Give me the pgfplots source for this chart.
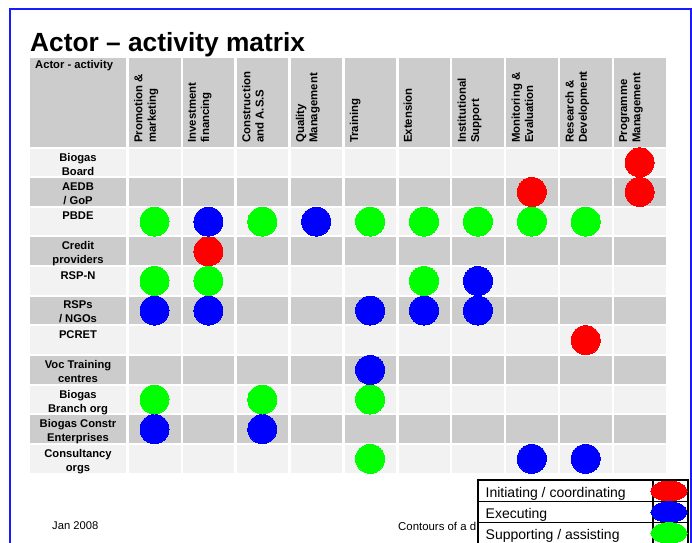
\documentclass[border=0pt]{standalone}
\usepackage{pgfplots}
\pgfplotsset{compat=1.18}
\usepackage{fontspec}
\setmainfont{Liberation Sans}
\definecolor{lightc}{HTML}{F2F2F2}
\definecolor{grayc}{HTML}{CCCCCC}
\definecolor{cred}{HTML}{FF0000}
\definecolor{cblue}{HTML}{0000FF}
\definecolor{cgreen}{HTML}{00FF00}
\definecolor{framec}{HTML}{1A1AFF}
\begin{document}
\begin{tikzpicture}
\useasboundingbox (0,0) rectangle (692pt,542pt);
\fill[white] (0,0) rectangle (692pt,542pt);
\begin{scope}[x=1pt,y=-1pt,shift={(0pt,542pt)}]
  % header row
  \fill[grayc] (30,58) rectangle (126,147);
  \foreach \k in {1,...,10} {
    \pgfmathsetmacro\L{129+53.9*(\k-1)}
    \pgfmathsetmacro\R{\L+51.5}
    \fill[grayc] (\L,58) rectangle (\R,147);
  }
  % body rows
  \foreach \r in {1,...,11} {
    \pgfmathsetmacro\T{148.5+29.65*(\r-1)}
    \pgfmathsetmacro\B{\T+27.6}
    \ifodd\r \def\cellc{lightc}\else\def\cellc{grayc}\fi
    \fill[\cellc] (30,\T) rectangle (126,\B);
    \foreach \k in {1,...,10} {
      \pgfmathsetmacro\L{129+53.9*(\k-1)}
      \pgfmathsetmacro\R{\L+51.5}
      \fill[\cellc] (\L,\T) rectangle (\R,\B);
    }
  }
  % title
  \node[anchor=base west, inner sep=0, font=\fontsize{26.3}{30}\selectfont\bfseries] at (30,52) {Actor – activity matrix};
  \node[anchor=base west, inner sep=0, font=\fontsize{11.2}{13.5}\selectfont\bfseries] at (35,69) {Actor - activity};
  % column headers
  \foreach \k/\txt in {1/{Promotion \&\\marketing},2/{Investment\\financing},3/{Construction\\and A.S.S},4/{Quality\\Management},5/{Training},6/{Extension},7/{Institutional\\Support},8/{Monitoring \&\\Evaluation},9/{Research \&\\Development},10/{Programme\\Management}} {
    \pgfmathsetmacro\L{129+53.9*(\k-1)+5}
    \node[rotate=90, anchor=north west, inner sep=0, align=left, font=\fontsize{11.4}{13.3}\selectfont\bfseries] at (\L,143) {\txt};
  }
  % row labels
  \foreach \r/\txt in {1/{Biogas\\Board},2/{AEDB\\/ GoP},3/{PBDE},4/{Credit\\providers},5/{RSP-N},6/{RSPs\\/ NGOs},7/{PCRET},8/{Voc Training\\centres},9/{Biogas\\Branch org},10/{Biogas Constr\\Enterprises},11/{Consultancy\\orgs}} {
    \pgfmathsetmacro\T{148.5+29.65*(\r-1)+4.2}
    \node[anchor=north, inner sep=0, align=center, font=\fontsize{11.2}{14}\selectfont\bfseries] at (78,\T) {\txt};
  }
  % footer
  \node[anchor=base west, inner sep=0, font=\fontsize{11.2}{13}\selectfont] at (52,529) {Jan 2008};
  \node[anchor=base west, inner sep=0, font=\fontsize{11.4}{13}\selectfont] at (398,530) {Contours of a d};
  % frame
  \draw[framec, line width=2pt] (10,546) -- (10,9) -- (691,9) -- (691,546);
  % legend box
  \fill[white] (478,480) rectangle (688,546);
  \draw[black, line width=1.4pt] (478,546) -- (478,480) -- (688,480) -- (688,546);
  \draw[black, line width=1.4pt] (478,501.5) -- (688,501.5);
  \draw[black, line width=1.4pt] (478,522.7) -- (688,522.7);
  \draw[black, line width=1.4pt] (653,480) -- (653,546);
  \node[anchor=base west, inner sep=0, font=\fontsize{14}{16}\selectfont] at (485.5,497.3) {Initiating / coordinating};
  \node[anchor=base west, inner sep=0, font=\fontsize{14}{16}\selectfont] at (485.5,518.3) {Executing};
  \node[anchor=base west, inner sep=0, font=\fontsize{14}{16}\selectfont] at (485.5,539.7) {Supporting / assisting};
\end{scope}
\begin{axis}[at={(0pt,0pt)}, anchor=south west, scale only axis, width=692pt, height=542pt,
  hide axis, clip=false,
  xmin=-1.8664, xmax=10.9722, ymin=-4.4739, ymax=13.806, y dir=reverse]
  % Initiating / coordinating (column, row)
  \addplot[only marks, color=cred, mark=*, mark size=14.5pt, mark options={draw=cred, line width=0pt, fill=cred}]
    coordinates {(10,1) (8,2) (10,2) (2,4) (9,7)};
  % Executing
  \addplot[only marks, color=cblue, mark=*, mark size=14.5pt, mark options={draw=cblue, line width=0pt, fill=cblue}]
    coordinates {(2,3) (4,3) (7,5) (1,6) (2,6) (5,6) (6,6) (7,6) (5,8) (1,10) (3,10) (8,11) (9,11)};
  % Supporting / assisting
  \addplot[only marks, color=cgreen, mark=*, mark size=14.5pt, mark options={draw=cgreen, line width=0pt, fill=cgreen}]
    coordinates {(1,3) (3,3) (5,3) (6,3) (7,3) (8,3) (9,3) (1,5) (2,5) (6,5) (1,9) (3,9) (5,9) (5,11)};
  % legend keys
  \addplot[only marks, color=cred, mark=*, mark size=9.8pt, mark options={xscale=1.85, draw=cred, line width=0pt, fill=cred}]
    coordinates {(10.545,12.086)};
  \addplot[only marks, color=cblue, mark=*, mark size=10.3pt, mark options={xscale=1.75, draw=cblue, line width=0pt, fill=cblue}]
    coordinates {(10.545,12.794)};
  \addplot[only marks, color=cgreen, mark=*, mark size=10.3pt, mark options={xscale=1.75, draw=cgreen, line width=0pt, fill=cgreen}]
    coordinates {(10.545,13.503)};
\end{axis}
\end{tikzpicture}
\end{document}
